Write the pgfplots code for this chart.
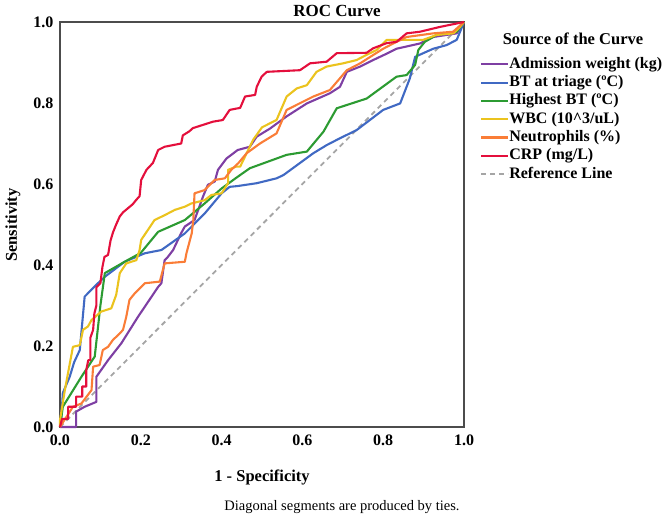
\documentclass[border=0pt]{standalone}
\usepackage{pgfplots}
\pgfplotsset{compat=1.18}
\usepackage{fontspec}
\setmainfont{Liberation Serif}
\definecolor{cpurple}{RGB}{126,63,163}
\definecolor{cblue}{RGB}{64,105,195}
\definecolor{cgreen}{RGB}{44,155,50}
\definecolor{cyellow}{RGB}{235,195,30}
\definecolor{corange}{RGB}{250,125,55}
\definecolor{cred}{RGB}{228,15,60}
\definecolor{cref}{RGB}{165,165,165}
\tikzset{roc/.style={line width=2.1pt, line join=round}}
\begin{document}
\begin{tikzpicture}
\path[use as bounding box] (0,0) rectangle (669pt,-517pt);
\begin{axis}[
  at={(60pt,-427pt)}, anchor=south west,
  scale only axis, width=404pt, height=405pt,
  xmin=0, xmax=1, ymin=0, ymax=1,
  xtick={0,0.2,0.4,0.6,0.8,1}, ytick={0,0.2,0.4,0.6,0.8,1},
  major tick length=0pt,
  axis line style={draw=black!70, line width=1.3pt},
  /pgf/number format/assume math mode=true,
  /pgf/number format/fixed, /pgf/number format/precision=1, /pgf/number format/fixed zerofill,
  ticklabel style={font=\bfseries\fontsize{16}{19}\selectfont},
  xticklabel style={yshift=-4pt},
  yticklabel style={xshift=-3pt},
  clip=false,
  legend style={at={(1.0396,0.912)}, anchor=north west, draw=none, fill=none,
    inner sep=0pt, row sep=5.3pt,
    font=\bfseries\fontsize{16}{19}\selectfont,
    nodes={inner sep=0pt, text height=10.5pt, text depth=2.5pt}},
  legend cell align=left,
  legend image code/.code={\draw[#1] (0pt,0pt) -- (27pt,0pt);},
  /tikz/every even column/.append style={column sep=3pt},
]
\addplot[cref, dash pattern=on 5pt off 4pt, line width=1.8pt, forget plot] coordinates {(0,0) (1,1)};
\addplot[cpurple, roc] coordinates {(0,0) (0.04,0) (0.04,0.038) (0.061,0.05) (0.09,0.062) (0.09,0.124) (0.119,0.165) (0.152,0.207) (0.193,0.272) (0.243,0.346) (0.251,0.355) (0.259,0.412) (0.267,0.42) (0.28,0.437) (0.3,0.479) (0.309,0.495) (0.333,0.511) (0.354,0.569) (0.366,0.598) (0.383,0.606) (0.391,0.635) (0.412,0.663) (0.424,0.672) (0.44,0.684) (0.47,0.692) (0.487,0.717) (0.52,0.737) (0.561,0.767) (0.611,0.799) (0.668,0.824) (0.693,0.84) (0.71,0.877) (0.743,0.89) (0.775,0.906) (0.809,0.922) (0.833,0.934) (0.891,0.947) (0.924,0.963) (0.982,0.972) (1,1)};
\addlegendentry{Admission weight (kg)}
\addplot[cblue, roc] coordinates {(0,0) (0.003,0.017) (0.007,0.084) (0.024,0.124) (0.035,0.16) (0.049,0.19) (0.061,0.322) (0.094,0.355) (0.111,0.371) (0.16,0.408) (0.21,0.429) (0.251,0.437) (0.309,0.478) (0.358,0.527) (0.4,0.577) (0.42,0.593) (0.44,0.595) (0.487,0.602) (0.536,0.614) (0.553,0.622) (0.627,0.676) (0.66,0.696) (0.693,0.713) (0.734,0.733) (0.8,0.783) (0.842,0.799) (0.866,0.861) (0.879,0.914) (0.908,0.927) (0.924,0.934) (0.957,0.943) (0.982,0.956) (0.994,0.985) (1,1)};
\addlegendentry{BT at triage (ºC)}
\addplot[cgreen, roc] coordinates {(0,0) (0.007,0.05) (0.053,0.124) (0.086,0.174) (0.1,0.3) (0.111,0.38) (0.16,0.408) (0.2,0.43) (0.243,0.482) (0.309,0.511) (0.358,0.552) (0.4,0.589) (0.44,0.618) (0.47,0.639) (0.561,0.672) (0.611,0.68) (0.652,0.729) (0.685,0.787) (0.759,0.811) (0.833,0.865) (0.858,0.869) (0.879,0.894) (0.887,0.931) (0.903,0.951) (0.932,0.968) (0.982,0.976) (1,1)};
\addlegendentry{Highest BT (ºC)}
\addplot[cyellow, roc] coordinates {(0,0) (0,0.017) (0.012,0.091) (0.032,0.198) (0.049,0.202) (0.057,0.24) (0.069,0.248) (0.078,0.264) (0.102,0.285) (0.127,0.293) (0.139,0.326) (0.148,0.38) (0.164,0.404) (0.189,0.412) (0.197,0.437) (0.201,0.462) (0.234,0.511) (0.259,0.523) (0.284,0.536) (0.309,0.544) (0.325,0.552) (0.358,0.56) (0.375,0.573) (0.4,0.577) (0.416,0.602) (0.416,0.635) (0.436,0.643) (0.446,0.643) (0.478,0.709) (0.5,0.74) (0.536,0.758) (0.561,0.816) (0.586,0.836) (0.611,0.844) (0.635,0.877) (0.66,0.89) (0.701,0.898) (0.734,0.906) (0.759,0.919) (0.784,0.931) (0.809,0.956) (0.899,0.956) (0.932,0.968) (0.974,0.972) (0.99,0.988) (1,1)};
\addlegendentry{WBC (10\^{}3/uL)}
\addplot[corange, roc] coordinates {(0,0) (0.003,0.005) (0.016,0.025) (0.032,0.05) (0.053,0.058) (0.078,0.091) (0.082,0.149) (0.098,0.153) (0.106,0.19) (0.119,0.198) (0.131,0.215) (0.148,0.231) (0.156,0.24) (0.164,0.272) (0.172,0.314) (0.185,0.33) (0.21,0.355) (0.247,0.359) (0.259,0.404) (0.309,0.408) (0.313,0.429) (0.326,0.478) (0.33,0.511) (0.333,0.577) (0.358,0.585) (0.383,0.61) (0.408,0.614) (0.424,0.635) (0.441,0.651) (0.462,0.676) (0.495,0.7) (0.536,0.725) (0.561,0.783) (0.627,0.816) (0.668,0.832) (0.71,0.881) (0.743,0.898) (0.776,0.919) (0.8,0.934) (0.825,0.947) (0.858,0.963) (0.924,0.972) (0.973,0.976) (1,1)};
\addlegendentry{Neutrophils (\%)}
\addplot[cred, roc] coordinates {(0,0) (0.005,0.02) (0.02,0.02) (0.02,0.05) (0.04,0.05) (0.04,0.075) (0.055,0.075) (0.055,0.10) (0.065,0.10) (0.065,0.14) (0.07,0.165) (0.075,0.165) (0.075,0.22) (0.082,0.24) (0.085,0.28) (0.09,0.30) (0.09,0.345) (0.1,0.355) (0.105,0.395) (0.11,0.42) (0.119,0.425) (0.125,0.46) (0.131,0.48) (0.139,0.50) (0.148,0.52) (0.156,0.53) (0.168,0.54) (0.18,0.55) (0.188,0.56) (0.197,0.57) (0.201,0.61) (0.214,0.635) (0.23,0.652) (0.243,0.684) (0.259,0.692) (0.3,0.70) (0.304,0.72) (0.32,0.73) (0.329,0.738) (0.354,0.746) (0.379,0.754) (0.403,0.758) (0.42,0.783) (0.446,0.788) (0.458,0.816) (0.483,0.82) (0.487,0.84) (0.499,0.865) (0.512,0.877) (0.594,0.881) (0.619,0.898) (0.66,0.902) (0.685,0.923) (0.759,0.924) (0.775,0.935) (0.809,0.948) (0.833,0.951) (0.858,0.972) (0.891,0.976) (0.941,0.988) (1,1)};
\addlegendentry{CRP (mg/L)}
\addlegendimage{cref, dash pattern=on 5pt off 4pt, line width=1.8pt}
\addlegendentry{Reference Line}
\end{axis}
\node[font=\bfseries\fontsize{17}{20}\selectfont] at (337pt,-10.5pt) {ROC Curve};
\node[font=\bfseries\fontsize{16.5}{19}\selectfont] at (262pt,-477pt) {1 - Specificity};
\node[font=\bfseries\fontsize{16.5}{19}\selectfont, rotate=90] at (13pt,-225pt) {Sensitivity};
\node[font=\fontsize{14.5}{17}\selectfont] at (342pt,-507pt) {Diagonal segments are produced by ties.};
\node[font=\bfseries\fontsize{16.5}{19}\selectfont] at (573pt,-39pt) {Source of the Curve};
\end{tikzpicture}
\end{document}
